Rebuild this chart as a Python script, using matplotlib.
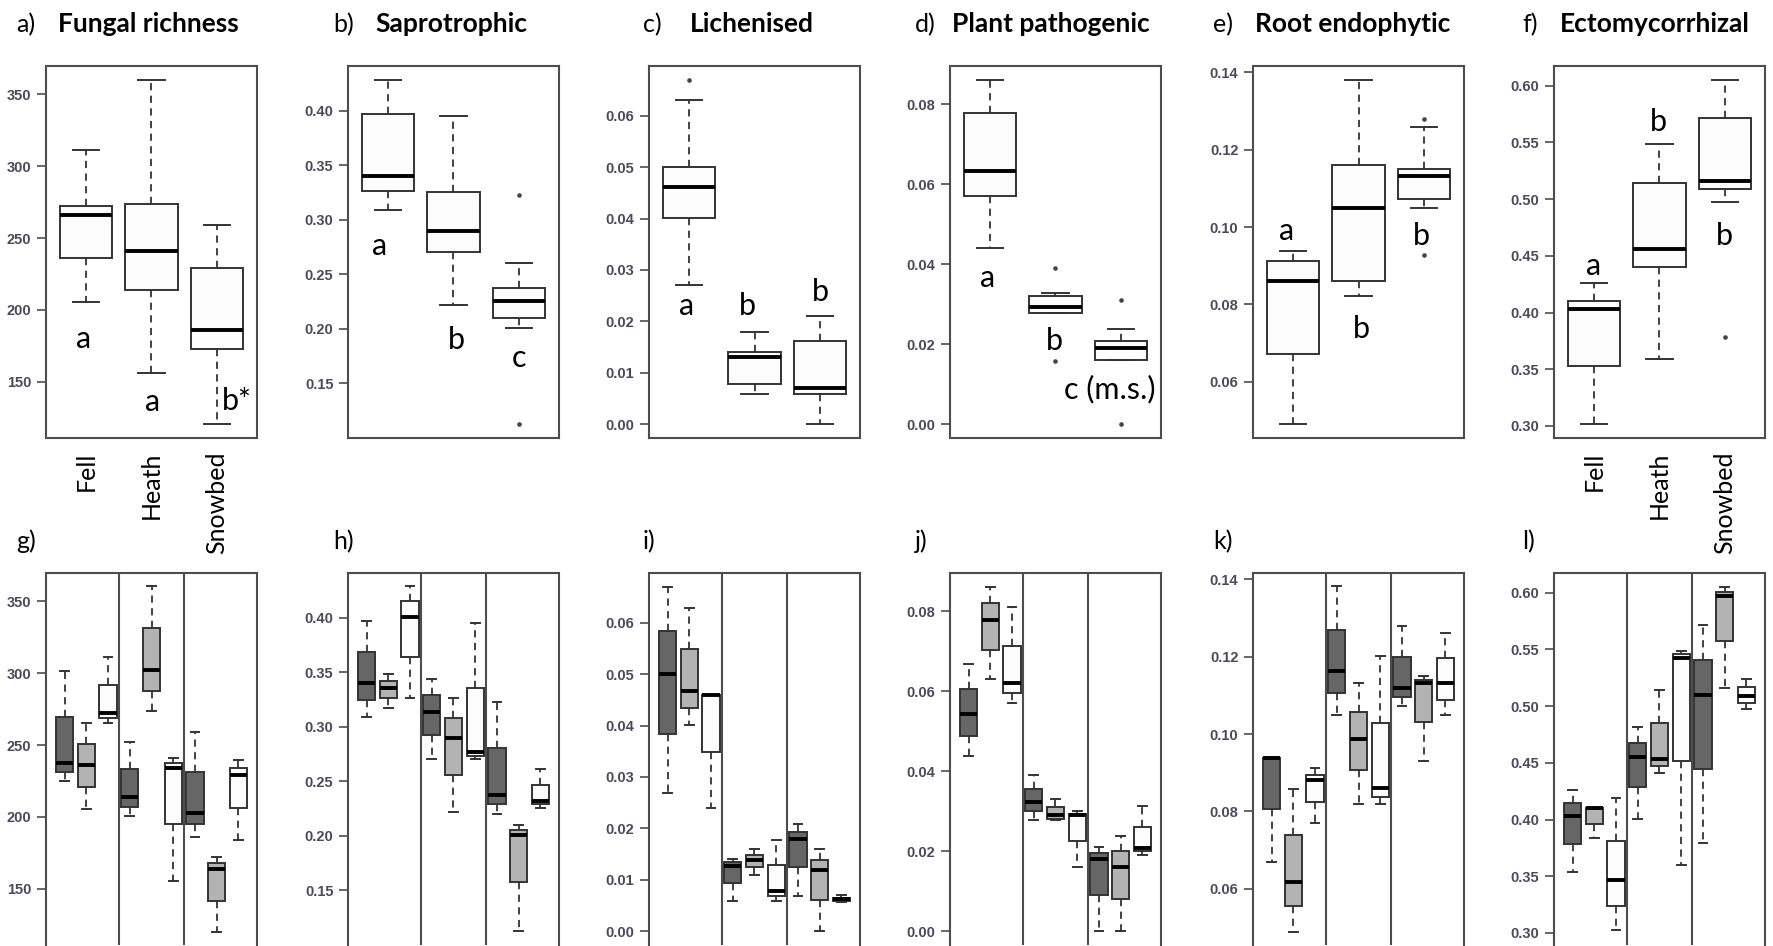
import numpy as np
import matplotlib.pyplot as plt

W, H = 1774, 946

habitats = ['Fell', 'Heath', 'Snowbed']
panel_tags_top = ['a)', 'b)', 'c)', 'd)', 'e)', 'f)']
panel_tags_bot = ['g)', 'h)', 'i)', 'j)', 'k)', 'l)']
panel_titles = ['Fungal richness', 'Saprotrophic', 'Lichenised',
                'Plant pathogenic', 'Root endophytic', 'Ectomycorrhizal']

# box stats: [lower whisker, q1, median, q3, upper whisker] for Fell, Heath, Snowbed
richness = [[205.3, 236.4, 265.7, 272.0, 311.0],
            [156.1, 213.9, 240.6, 273.6, 360.2],
            [120.3, 172.6, 186.0, 229.0, 259.0]]
richness_out = [[], [], []]
sapro = [[0.309, 0.326, 0.340, 0.397, 0.4285],
         [0.2216, 0.2708, 0.2898, 0.3259, 0.3954],
         [0.201, 0.2096, 0.2258, 0.2372, 0.2607]]
sapro_out = [[], [], [0.3229, 0.1123]]
lichen = [[0.0270, 0.0401, 0.0461, 0.0501, 0.0631],
          [0.0058, 0.0078, 0.0130, 0.0141, 0.0179],
          [0.0000, 0.0059, 0.0070, 0.0161, 0.0211]]
lichen_out = [[0.0670], [], []]
pathogen = [[0.0440, 0.0571, 0.0632, 0.0779, 0.0861],
            [0.0279, 0.0279, 0.0292, 0.0321, 0.0329],
            [0.0161, 0.0161, 0.0190, 0.0209, 0.0238]]
pathogen_out = [[], [0.0390, 0.0159], [0.0311, 0.0]]
root_endo = [[0.0490, 0.0672, 0.0861, 0.0911, 0.0939],
             [0.0822, 0.0861, 0.1050, 0.1161, 0.1381],
             [0.1050, 0.1072, 0.1131, 0.1150, 0.1260]]
root_endo_out = [[], [], [0.1280, 0.0928]]
ecto = [[0.3015, 0.3529, 0.4032, 0.4103, 0.4259],
        [0.3591, 0.4406, 0.4559, 0.5141, 0.5488],
        [0.4979, 0.5088, 0.5162, 0.5715, 0.6053]]
ecto_out = [[], [], [0.3788]]

# split by subgroup (dark, grey, white) within each habitat: 9 boxes
richness_sub = [[224.7, 231.3, 237.8, 269.7, 301.3], [205.2, 220.8, 236.4, 250.8, 265.5], [265.5, 268.5, 272.2, 291.8, 311.1],
                [200.3, 207.0, 213.6, 233.1, 252.4], [273.6, 287.4, 302.3, 331.4, 360.5], [155.6, 194.7, 234.1, 237.3, 240.6],
                [185.9, 194.7, 202.9, 231.3, 259.2], [119.7, 141.2, 163.3, 167.5, 172.1], [183.5, 206.1, 228.9, 234.1, 239.6]]
sapro_sub = [[0.3093, 0.3249, 0.3403, 0.3684, 0.3975], [0.3176, 0.3265, 0.3360, 0.3418, 0.3488], [0.3262, 0.3642, 0.4012, 0.4150, 0.4288],
             [0.2704, 0.2922, 0.3139, 0.3292, 0.3439], [0.2214, 0.2557, 0.2894, 0.3078, 0.3262], [0.2701, 0.2732, 0.2771, 0.3360, 0.3954],
             [0.2195, 0.2290, 0.2373, 0.2802, 0.3231], [0.1126, 0.1577, 0.2009, 0.2051, 0.2097], [0.2257, 0.2290, 0.2321, 0.2465, 0.2612]]
lichen_sub = [[0.0269, 0.0384, 0.0500, 0.0584, 0.0669], [0.0401, 0.0434, 0.0468, 0.0549, 0.0629], [0.0240, 0.0348, 0.0459, 0.0460, 0.0460],
              [0.0058, 0.0094, 0.0126, 0.0135, 0.0141], [0.0110, 0.0125, 0.0139, 0.0149, 0.0160], [0.0058, 0.0069, 0.0079, 0.0129, 0.0178],
              [0.0069, 0.0125, 0.0180, 0.0193, 0.0209], [0.0000, 0.0060, 0.0119, 0.0139, 0.0160], [0.0057, 0.0058, 0.0062, 0.0065, 0.0070]]
pathogen_sub = [[0.0438, 0.0488, 0.0542, 0.0605, 0.0669], [0.0631, 0.0704, 0.0779, 0.0821, 0.0860], [0.0570, 0.0596, 0.0620, 0.0714, 0.0811],
                [0.0279, 0.0301, 0.0322, 0.0355, 0.0390], [0.0278, 0.0280, 0.0291, 0.0311, 0.0330], [0.0160, 0.0225, 0.0290, 0.0292, 0.0300],
                [0.0000, 0.0091, 0.0180, 0.0195, 0.0210], [0.0000, 0.0080, 0.0160, 0.0200, 0.0239], [0.0190, 0.0200, 0.0207, 0.0260, 0.0312]]
root_endo_sub = [[0.0669, 0.0805, 0.0937, 0.0939, 0.0941], [0.0488, 0.0554, 0.0618, 0.0739, 0.0859], [0.0769, 0.0824, 0.0881, 0.0895, 0.0911],
                 [0.1050, 0.1106, 0.1162, 0.1270, 0.1382], [0.0820, 0.0906, 0.0988, 0.1058, 0.1131], [0.0820, 0.0838, 0.0860, 0.1028, 0.1201],
                 [0.1073, 0.1096, 0.1120, 0.1200, 0.1279], [0.0930, 0.1030, 0.1131, 0.1140, 0.1150], [0.1050, 0.1089, 0.1132, 0.1196, 0.1261]]
ecto_sub = [[0.3537, 0.3780, 0.4035, 0.4144, 0.4264], [0.3839, 0.3962, 0.4100, 0.4106, 0.4106], [0.3023, 0.3238, 0.3463, 0.3812, 0.4194],
            [0.4006, 0.4284, 0.4554, 0.4674, 0.4812], [0.4408, 0.4472, 0.4534, 0.4848, 0.5141], [0.3601, 0.4519, 0.5428, 0.5457, 0.5487],
            [0.3792, 0.4446, 0.5100, 0.5405, 0.5716], [0.5158, 0.5575, 0.5971, 0.6009, 0.6050], [0.4974, 0.5032, 0.5091, 0.5170, 0.5243]]

y_ticks = [[150, 200, 250, 300, 350],
           [0.15, 0.20, 0.25, 0.30, 0.35, 0.40],
           [0.00, 0.01, 0.02, 0.03, 0.04, 0.05, 0.06],
           [0.00, 0.02, 0.04, 0.06, 0.08],
           [0.06, 0.08, 0.10, 0.12, 0.14],
           [0.30, 0.35, 0.40, 0.45, 0.50, 0.55, 0.60]]

# significance letters: (text, x, y) in data units of the top panels
sig_letters = [[('a', 0.95, 173.3), ('a', 2.02, 129.8), ('b*', 3.31, 130.0)],
               [('a', 0.86, 0.268), ('b', 2.04, 0.181), ('c', 3.0, 0.165)],
               [('a', 0.95, 0.0213), ('b', 1.89, 0.0213), ('b', 3.01, 0.0239)],
               [('a', 0.96, 0.0344), ('b', 1.98, 0.0186), ('c (m.s.)', 2.83, 0.0065)],
               [('a', 0.90, 0.0967), ('b', 2.04, 0.0712), ('b', 2.97, 0.0954)],
               [('a', 0.98, 0.433), ('b', 1.98, 0.560), ('b', 2.99, 0.460)]]

top_data = [richness, sapro, lichen, pathogen, root_endo, ecto]
top_out = [richness_out, sapro_out, lichen_out, pathogen_out, root_endo_out, ecto_out]
bot_data = [richness_sub, sapro_sub, lichen_sub, pathogen_sub, root_endo_sub, ecto_sub]

sub_colors = ['#666666', '#b3b3b3', '#fcfcfc']
edge = '#333333'
spine_col = '#4d4d4d'
tick_col = '#4a4a5c'

lefts = [46, 348, 649, 950, 1253, 1554]
tag_x = [16, 333, 643, 915, 1213, 1522]
title_x = [58, 375, 690, 952, 1255, 1560]
pw = 211
top_y0, top_y1 = 66, 438
bot_y0 = 573


def make_stats(rows, outs=None):
    stats = []
    for i, r in enumerate(rows):
        stats.append({'whislo': r[0], 'q1': r[1], 'med': r[2], 'q3': r[3], 'whishi': r[4],
                      'fliers': outs[i] if outs else []})
    return stats


def draw_boxes(ax, stats, positions, colors):
    res = ax.bxp(stats, positions=positions, widths=0.8, patch_artist=True, showfliers=True,
                 boxprops=dict(edgecolor=edge, linewidth=1.4),
                 medianprops=dict(color='black', linewidth=2.8, solid_capstyle='butt'),
                 whiskerprops=dict(color=edge, linewidth=1.3, linestyle=(0, (4, 3))),
                 capprops=dict(color=edge, linewidth=1.4),
                 flierprops=dict(marker='o', markersize=2.3, markerfacecolor='#444444',
                                 markeredgecolor='#444444'))
    for b, c in zip(res['boxes'], colors):
        b.set_facecolor(c)


def style_axes(ax, col):
    for s in ax.spines.values():
        s.set_color(spine_col)
        s.set_linewidth(1.5)
    ax.set_yticks(y_ticks[col])
    if col == 0:
        ax.set_yticklabels(['%d' % t for t in y_ticks[col]])
    else:
        ax.set_yticklabels(['%.2f' % t for t in y_ticks[col]])
    ax.tick_params(axis='y', length=6.5, width=1.2, color=spine_col, pad=4,
                   labelsize=10.5, labelcolor=tick_col)
    for lab in ax.get_yticklabels():
        lab.set_family('Liberation Sans')
        lab.set_fontweight('bold')


fig = plt.figure(figsize=(W / 100, H / 100), dpi=100)

for col in range(6):
    data = top_data[col]
    lo = min([r[0] for r in data] + sum(top_out[col], []))
    hi = max([r[4] for r in data] + sum(top_out[col], []))
    pad = (hi - lo) * 0.04
    ylim = (lo - pad, hi + pad)

    # top row
    ax = fig.add_axes([lefts[col] / W, 1 - top_y1 / H, pw / W, (top_y1 - top_y0) / H])
    draw_boxes(ax, make_stats(data, top_out[col]), [1, 2, 3], ['#fcfcfc'] * 3)
    ax.set_xlim(0.38, 3.62)
    ax.set_ylim(ylim)
    style_axes(ax, col)
    if col in (0, 5):
        ax.set_xticks([1, 2, 3])
        ax.set_xticklabels(habitats, rotation=90, fontsize=18, family='Lato')
        ax.tick_params(axis='x', length=0, pad=10)
    else:
        ax.set_xticks([])
    for txt, x, y in sig_letters[col]:
        ax.text(x, y, txt, ha='center', va='baseline', fontsize=22, family='Lato')

    # bottom row
    ax2 = fig.add_axes([lefts[col] / W, 1 - (bot_y0 + top_y1 - top_y0) / H, pw / W,
                        (top_y1 - top_y0) / H])
    draw_boxes(ax2, make_stats(bot_data[col]), list(range(1, 10)), sub_colors * 3)
    ax2.set_xlim(0.14, 9.86)
    ax2.set_ylim(ylim)
    ax2.axvline(3.5, color=spine_col, linewidth=1.5)
    ax2.axvline(6.5, color=spine_col, linewidth=1.5)
    style_axes(ax2, col)
    ax2.spines['bottom'].set_visible(False)
    ax2.set_xticks([])

    # panel labels
    fig.text(tag_x[col] / W, 1 - 32 / H, panel_tags_top[col], fontsize=18, family='Lato',
             va='baseline', ha='left')
    fig.text(title_x[col] / W, 1 - 32 / H, panel_titles[col], fontsize=19, family='Lato',
             fontweight='bold', va='baseline', ha='left')
    fig.text(tag_x[col] / W, 1 - 549 / H, panel_tags_bot[col], fontsize=18, family='Lato',
             va='baseline', ha='left')

fig.savefig('out.png', dpi=100)
